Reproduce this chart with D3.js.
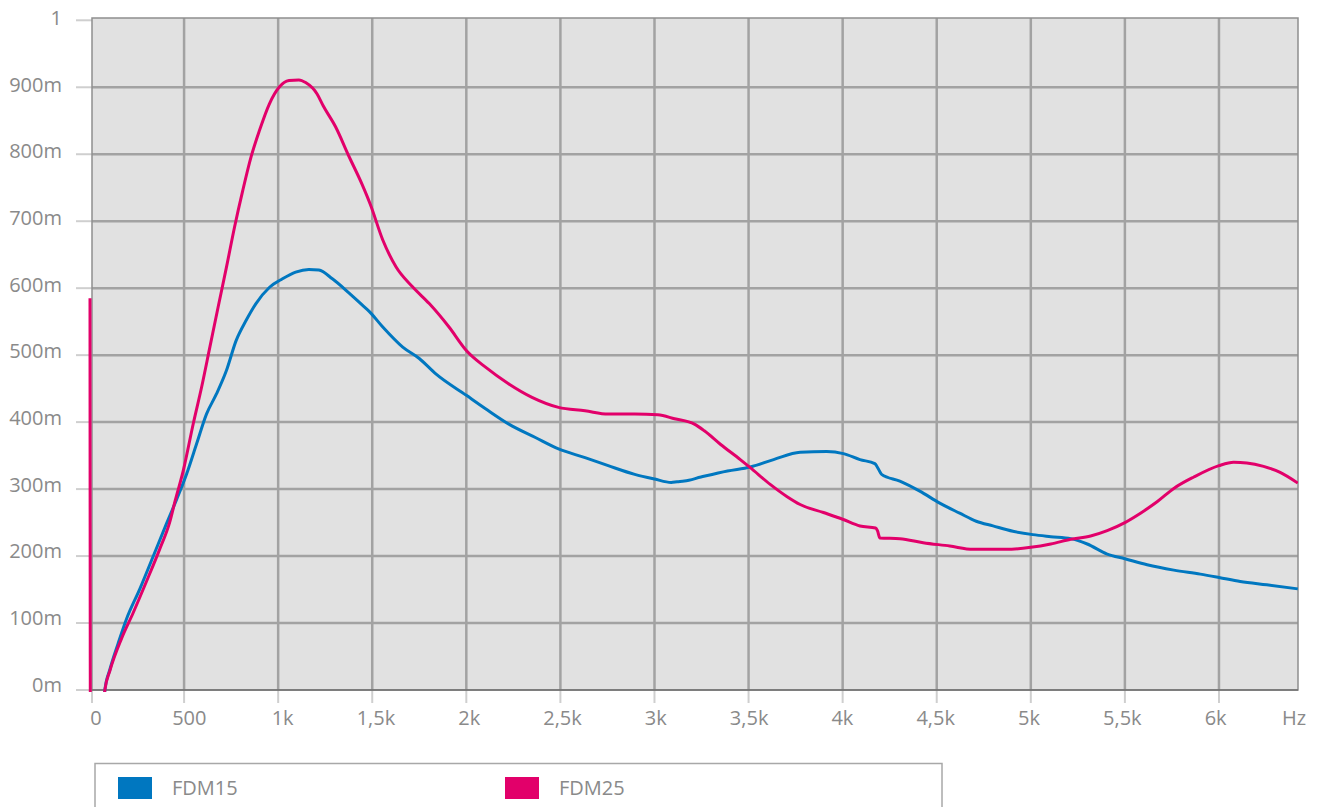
<!DOCTYPE html>
<html><head><meta charset="utf-8">
<script src="https://cdn.jsdelivr.net/npm/d3@7/dist/d3.min.js"></script>
<style>
body{margin:0;background:#fff;}
text{font-family:"Open Sans",sans-serif;}
</style>
</head><body>
<svg id="chart" width="1322" height="807"></svg>
<script>
// ---------- DATA ----------
const seriesNames = ["FDM15", "FDM25"];
const seriesColors = ["#0077c0", "#e2006a"];

// FDM15 (blue): frequency in Hz, value in milli-units
const freqFDM15 = [2, 70, 79, 106, 150, 194, 265, 335, 406, 461, 514, 567, 619, 672, 725, 777, 830, 882, 953, 1023, 1093, 1163, 1216, 1288, 1376, 1446, 1485, 1556, 1662, 1750, 1838, 2000, 2102, 2226, 2367, 2490, 2631, 2754, 2895, 3001, 3089, 3120, 3159, 3247, 3388, 3509, 3633, 3774, 3915, 4004, 4092, 4171, 4190, 4207, 4304, 4410, 4516, 4622, 4710, 4799, 4905, 5011, 5106, 5212, 5300, 5406, 5500, 5618, 5760, 5901, 6000, 6113, 6254, 6419];
const valFDM15  = [-40, -40, 0, 31, 70, 106, 151, 199, 248, 285, 323, 368, 412, 442, 477, 522, 552, 577, 601, 614, 624, 628, 627, 614, 593, 575, 565, 542, 512, 495, 472, 440, 420, 397, 377, 360, 347, 335, 322, 315, 310, 311, 312, 318, 327, 333, 344, 355, 356, 353, 344, 338, 330, 322, 312, 297, 279, 264, 252, 245, 237, 232, 229, 226, 218, 203, 196, 187, 179, 173, 168, 162, 157, 151];

// FDM25 (magenta)
const freqFDM25 = [0, 2, 70, 79, 106, 168, 229, 300, 370, 423, 453, 496, 549, 593, 637, 681, 725, 768, 812, 856, 900, 953, 1005, 1058, 1110, 1146, 1207, 1240, 1305, 1376, 1446, 1490, 1556, 1626, 1714, 1803, 1908, 2000, 2102, 2226, 2349, 2490, 2631, 2754, 2895, 3018, 3107, 3212, 3265, 3350, 3456, 3509, 3615, 3703, 3774, 3898, 4000, 4092, 4175, 4185, 4198, 4304, 4428, 4569, 4693, 4869, 5000, 5106, 5212, 5318, 5406, 5500, 5583, 5671, 5760, 5866, 6000, 6078, 6148, 6237, 6325, 6419];
const valFDM25  = [585, -40, -40, 0, 29, 77, 115, 162, 210, 250, 283, 328, 398, 452, 512, 572, 631, 691, 746, 796, 835, 875, 900, 910, 911, 907, 890, 872, 841, 797, 755, 725, 672, 632, 602, 577, 542, 507, 482, 457, 437, 422, 417, 412, 412, 411, 405, 397, 387, 367, 344, 332, 307, 289, 277, 265, 255, 245, 242, 238, 227, 226, 220, 215, 210, 210, 213, 218, 225, 230, 238, 250, 264, 281, 301, 318, 335, 340, 339, 334, 325, 309];

const xTickValues = [0, 500, 1000, 1500, 2000, 2500, 3000, 3500, 4000, 4500, 5000, 5500, 6000];
const xTickLabels = ["0", "500", "1k", "1,5k", "2k", "2,5k", "3k", "3,5k", "4k", "4,5k", "5k", "5,5k", "6k"];
const xUnitLabel = "Hz";
const yTickValues = [0, 100, 200, 300, 400, 500, 600, 700, 800, 900, 1000];
const yTickLabels = ["0m", "100m", "200m", "300m", "400m", "500m", "600m", "700m", "800m", "900m", "1"];

// ---------- LAYOUT ----------
const plot = {left: 92, right: 1298, top: 18, bottom: 690};
const xMax = 6420;
const x = d3.scaleLinear().domain([0, xMax]).range([90, plot.right]);
const y = d3.scaleLinear().domain([0, 1000]).range([plot.bottom, 20.3]);
const xLab = d3.scaleLinear().domain([0, xMax]).range([96, 1294]);
const yLab = d3.scaleLinear().domain([0, 1000]).range([691.7, 25]);

const svg = d3.select("#chart");

// background
svg.append("rect").attr("x", plot.left).attr("y", plot.top)
  .attr("width", plot.right - plot.left).attr("height", plot.bottom - plot.top)
  .attr("fill", "#e1e1e1");

// grid
const grid = svg.append("g");
grid.selectAll("line.v").data(xTickValues.filter(d => d > 0)).join("line")
  .attr("x1", d => x(d)).attr("x2", d => x(d))
  .attr("y1", plot.top).attr("y2", plot.bottom)
  .attr("stroke", "#a2a2a2").attr("stroke-width", 2.5);
grid.selectAll("line.h").data(yTickValues.filter(d => d > 0 && d < 1000)).join("line")
  .attr("x1", plot.left).attr("x2", plot.right)
  .attr("y1", d => y(d)).attr("y2", d => y(d))
  .attr("stroke", "#a2a2a2").attr("stroke-width", 2.5);

// tick marks
svg.append("g").selectAll("line").data(yTickValues).join("line")
  .attr("x1", 76).attr("x2", plot.left)
  .attr("y1", d => y(d)).attr("y2", d => y(d))
  .attr("stroke", "#cfcfcf").attr("stroke-width", 2);
svg.append("g").selectAll("line").data(xTickValues).join("line")
  .attr("x1", d => Math.max(x(d), plot.left)).attr("x2", d => Math.max(x(d), plot.left))
  .attr("y1", plot.bottom).attr("y2", 703)
  .attr("stroke", "#cfcfcf").attr("stroke-width", 2);

// plot border
svg.append("rect").attr("x", plot.left).attr("y", plot.top)
  .attr("width", plot.right - plot.left).attr("height", plot.bottom - plot.top)
  .attr("fill", "none").attr("stroke", "#8e8e8e").attr("stroke-width", 1.5);
svg.append("line").attr("x1", plot.left).attr("x2", plot.right)
  .attr("y1", plot.bottom).attr("y2", plot.bottom)
  .attr("stroke", "#6f6f6f").attr("stroke-width", 1.5);

// tick labels
svg.append("g").selectAll("text").data(yTickValues).join("text")
  .attr("x", 62).attr("y", d => yLab(d))
  .attr("text-anchor", "end").attr("font-size", 20).attr("fill", "#8a8a8a")
  .text((d, i) => yTickLabels[i]);
svg.append("g").selectAll("text").data(xTickValues).join("text")
  .attr("x", d => xLab(d)).attr("y", 724.5)
  .attr("text-anchor", "middle").attr("font-size", 20).attr("fill", "#8a8a8a")
  .text((d, i) => xTickLabels[i]);
svg.append("text").attr("x", xLab(xMax)).attr("y", 724.5)
  .attr("text-anchor", "middle").attr("font-size", 20).attr("fill", "#8a8a8a")
  .text(xUnitLabel);

// lines
svg.append("clipPath").attr("id", "clip").append("rect")
  .attr("x", 86).attr("y", plot.top).attr("width", plot.right - 86).attr("height", plot.bottom - plot.top + 2);

const line = d3.line().x(d => x(d[0])).y(d => y(d[1])).curve(d3.curveMonotoneX);
const series = [
  {name: seriesNames[0], color: seriesColors[0], pts: d3.zip(freqFDM15, valFDM15)},
  {name: seriesNames[1], color: seriesColors[1], pts: d3.zip(freqFDM25, valFDM25)}
];
svg.append("g").attr("clip-path", "url(#clip)")
  .selectAll("path").data(series).join("path")
  .attr("d", d => line(d.pts))
  .attr("fill", "none").attr("stroke", d => d.color)
  .attr("stroke-width", 3).attr("stroke-linejoin", "round");

// legend
const leg = svg.append("g");
leg.append("rect").attr("x", 95).attr("y", 763.5).attr("width", 847).attr("height", 80)
  .attr("fill", "#fff").attr("stroke", "#a8a8a8").attr("stroke-width", 1.5);
const legX = [118, 505];
const items = leg.selectAll("g.item").data(series).join("g")
  .attr("transform", (d, i) => `translate(${legX[i]},777)`);
items.append("rect").attr("width", 34).attr("height", 22).attr("fill", d => d.color);
items.append("text").attr("x", 54).attr("y", 18).attr("font-size", 20).attr("fill", "#8a8a8a")
  .text(d => d.name);
</script>
</body></html>
